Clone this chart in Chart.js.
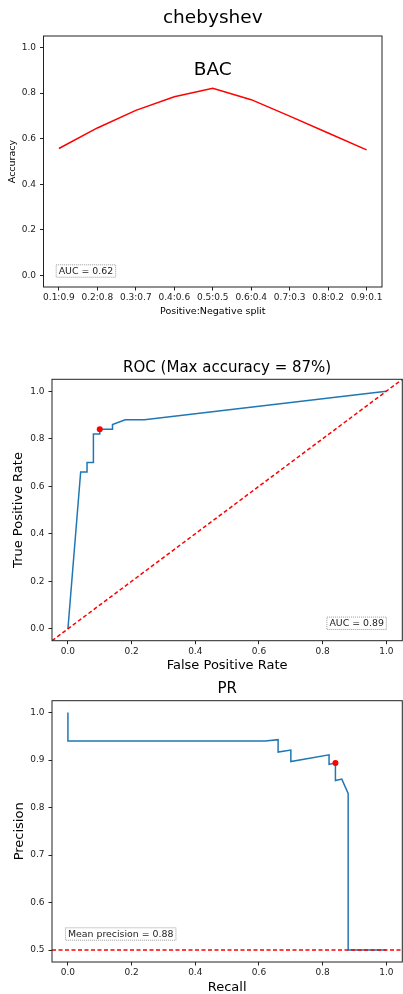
<!DOCTYPE html>
<html>
<head>
<meta charset="utf-8">
<script src="https://cdn.jsdelivr.net/npm/chart.js@4.4.1/dist/chart.umd.min.js"></script>
<style>
    html, body { margin: 0; padding: 0; background: #fff; width: 403px; height: 994px; overflow: hidden; }
    canvas { position: absolute; left: 0; }
</style>
</head>
<body>
<canvas id="bacChart" width="403" height="330" style="top:0px"></canvas>
<canvas id="rocChart" width="403" height="335" style="top:340px"></canvas>
<canvas id="prChart" width="403" height="319" style="top:675px"></canvas>
<script>
// Data
const splitLabels = ["0.1:0.9", "0.2:0.8", "0.3:0.7", "0.4:0.6", "0.5:0.5", "0.6:0.4", "0.7:0.3", "0.8:0.2", "0.9:0.1"];
const bacAccuracy = [0.557, 0.647, 0.724, 0.784, 0.821, 0.771, 0.699, 0.625, 0.551];

const rocFpr = [0, 0.04, 0.06, 0.06, 0.08, 0.08, 0.10, 0.10, 0.14, 0.14, 0.18, 0.24, 1.0];
const rocTpr = [0, 0.66, 0.66, 0.70, 0.70, 0.82, 0.82, 0.84, 0.84, 0.86, 0.88, 0.88, 1.0];
const rocBestFpr = [0.10];
const rocBestTpr = [0.84];
const chanceX = [-0.05, 1.05];
const chanceY = [-0.05, 1.05];

const prRecall = [0, 0, 0.62, 0.66, 0.66, 0.70, 0.70, 0.82, 0.82, 0.84, 0.84, 0.86, 0.88, 0.88, 1.0];
const prPrecision = [1.0, 0.94, 0.94, 0.943, 0.917, 0.921, 0.897, 0.911, 0.891, 0.894, 0.857, 0.860, 0.830, 0.5, 0.5];
const prBestRecall = [0.84];
const prBestPrecision = [0.894];
const baselineX = [-0.05, 1.05];
const baselineY = [0.5, 0.5];

const splitTicks = [0, 1, 2, 3, 4, 5, 6, 7, 8];
const unitTicks = [0, 0.2, 0.4, 0.6, 0.8, 1.0];
const precisionTicks = [0.5, 0.6, 0.7, 0.8, 0.9, 1.0];

const FONT = "DejaVu Sans";
const blue = "#1f77b4";
const red = "#ff0000";

function points(xs, ys) {
    return xs.map((x, i) => ({ x: x, y: ys[i] }));
}

// Fixed-size linear axis, matplotlib look
function makeScale(min, max, ticks, size, fmt, title) {
    return {
        type: "linear",
        min: min,
        max: max,
        afterBuildTicks: (s) => { s.ticks = ticks.map(v => ({ value: v })); },
        afterFit: (s) => { if (s.isHorizontal()) s.height = size; else s.width = size; },
        border: { display: false },
        grid: { drawOnChartArea: false, drawTicks: true, tickLength: 3.5, color: "#222", lineWidth: 1 },
        ticks: {
            color: "#222",
            font: { family: FONT, size: 9 },
            padding: title.tickPad,
            autoSkip: false,
            maxRotation: 0,
            minRotation: 0,
            callback: fmt
        },
        title: {
            display: true,
            text: title.text,
            color: "#000",
            font: { family: FONT, size: title.size, lineHeight: 1 },
            padding: title.padding
        }
    };
}

const oneDecimal = (v) => Number(v).toFixed(1);

// Axes frame + text annotations
const framePlugin = {
    id: "frame",
    afterDatasetsDraw(chart, args, opts) {
        const { ctx, chartArea: a } = chart;
        ctx.save();
        ctx.strokeStyle = "#222";
        ctx.lineWidth = 1;
        ctx.strokeRect(a.left, a.top, a.right - a.left, a.bottom - a.top);
        ctx.restore();

        (opts.items || []).forEach(it => {
            ctx.save();
            ctx.font = `${it.size}px "${FONT}"`;
            ctx.textBaseline = "middle";
            let x, y;
            if (it.data) {
                x = chart.scales.x.getPixelForValue(it.data[0]);
                y = chart.scales.y.getPixelForValue(it.data[1]);
            } else {
                x = a.left + it.fx * (a.right - a.left);
                y = a.bottom - it.fy * (a.bottom - a.top);
            }
            if (it.box) {
                const w = ctx.measureText(it.text).width + 6;
                const h = it.size + 4;
                const left = it.anchor === "right" ? x - w : x;
                ctx.fillStyle = "#fff";
                ctx.fillRect(left, y - h, w, h);
                ctx.setLineDash([1, 1]);
                ctx.strokeStyle = "#999";
                ctx.strokeRect(left + 0.5, y - h + 0.5, w - 1, h - 1);
                ctx.fillStyle = "#222";
                ctx.textAlign = "left";
                ctx.fillText(it.text, left + 3, y - h / 2 + 0.5);
            } else {
                ctx.fillStyle = "#000";
                ctx.textAlign = "center";
                ctx.fillText(it.text, x, y);
            }
            ctx.restore();
        });
    }
};

function titleOpts(text, size, lineHeight, top, bottom) {
    return {
        display: true,
        text: text,
        fullSize: false,
        color: "#000",
        font: { family: FONT, size: size, weight: "normal", lineHeight: lineHeight },
        padding: { top: top, bottom: bottom }
    };
}

const baseOptions = {
    responsive: false,
    animation: false,
    events: [],
    layout: { autoPadding: false }
};

// BAC chart
new Chart(document.getElementById("bacChart"), {
    type: "line",
    data: {
        datasets: [{
            data: points(splitTicks, bacAccuracy),
            borderColor: red,
            borderWidth: 1.5,
            pointRadius: 0,
            tension: 0,
            fill: false
        }]
    },
    options: {
        ...baseOptions,
        layout: { autoPadding: false, padding: { left: 0, right: 21, top: 0, bottom: 0 } },
        scales: {
            x: makeScale(-0.4, 8.4, splitTicks, 43, (v) => splitLabels[v],
                { text: "Positive:Negative split", size: 9.5, padding: { top: 0, bottom: 13.5 }, tickPad: 2 }),
            y: makeScale(-0.05, 1.05, unitTicks, 43.5, oneDecimal,
                { text: "Accuracy", size: 9.5, padding: { top: 8, bottom: 0 }, tickPad: 4 })
        },
        plugins: {
            legend: { display: false },
            tooltip: { enabled: false },
            title: titleOpts("chebyshev", 18.5, 1.2, 7.2, 6.6),
            frame: {
                items: [
                    { text: "BAC", size: 18.5, data: [4, 0.9] },
                    { text: "AUC = 0.62", size: 9.4, box: true, anchor: "left", fx: 0.036, fy: 0.037 }
                ]
            }
        }
    },
    plugins: [framePlugin]
});

// ROC chart
new Chart(document.getElementById("rocChart"), {
    type: "line",
    data: {
        datasets: [{
            type: "scatter",
            data: points(rocBestFpr, rocBestTpr),
            backgroundColor: red,
            borderWidth: 0,
            pointRadius: 3
        }, {
            data: points(chanceX, chanceY),
            borderColor: red,
            borderWidth: 1.5,
            borderDash: [4, 2.5],
            pointRadius: 0,
            fill: false
        }, {
            data: points(rocFpr, rocTpr),
            borderColor: blue,
            borderWidth: 1.5,
            pointRadius: 0,
            tension: 0,
            fill: false
        }]
    },
    options: {
        ...baseOptions,
        layout: { autoPadding: false, padding: { left: 0, right: 0.7, top: 0, bottom: 0 } },
        scales: {
            x: makeScale(-0.05, 1.05, unitTicks, 34.3, oneDecimal,
                { text: "False Positive Rate", size: 13, padding: { top: 0, bottom: 2.8 }, tickPad: 2 }),
            y: makeScale(-0.05, 1.05, unitTicks, 52, oneDecimal,
                { text: "True Positive Rate", size: 13, padding: { top: 12.5, bottom: 0 }, tickPad: 4 })
        },
        plugins: {
            legend: { display: false },
            tooltip: { enabled: false },
            title: titleOpts("ROC (Max accuracy = 87%)", 15, 1, 20.5, 3.8),
            frame: {
                items: [
                    { text: "AUC = 0.89", size: 9.4, box: true, anchor: "right", fx: 0.956, fy: 0.041 }
                ]
            }
        }
    },
    plugins: [framePlugin]
});

// PR chart
new Chart(document.getElementById("prChart"), {
    type: "line",
    data: {
        datasets: [{
            type: "scatter",
            data: points(prBestRecall, prBestPrecision),
            backgroundColor: red,
            borderWidth: 0,
            pointRadius: 3
        }, {
            data: points(baselineX, baselineY),
            borderColor: red,
            borderWidth: 1.5,
            borderDash: [4, 2.5],
            pointRadius: 0,
            fill: false
        }, {
            data: points(prRecall, prPrecision),
            borderColor: blue,
            borderWidth: 1.5,
            pointRadius: 0,
            tension: 0,
            fill: false
        }]
    },
    options: {
        ...baseOptions,
        layout: { autoPadding: false, padding: { left: 0, right: 0.7, top: 0, bottom: 0 } },
        scales: {
            x: makeScale(-0.05, 1.05, unitTicks, 32, oneDecimal,
                { text: "Recall", size: 13, padding: { top: 0, bottom: 0.2 }, tickPad: 2 }),
            y: makeScale(0.475, 1.025, precisionTicks, 52, oneDecimal,
                { text: "Precision", size: 13, padding: { top: 12.8, bottom: 0 }, tickPad: 4 })
        },
        plugins: {
            legend: { display: false },
            tooltip: { enabled: false },
            title: titleOpts("PR", 15, 1, 6.8, 3.9),
            frame: {
                items: [
                    { text: "Mean precision = 0.88", size: 9.4, box: true, anchor: "left", fx: 0.037, fy: 0.0815 }
                ]
            }
        }
    },
    plugins: [framePlugin]
});
</script>
</body>
</html>
